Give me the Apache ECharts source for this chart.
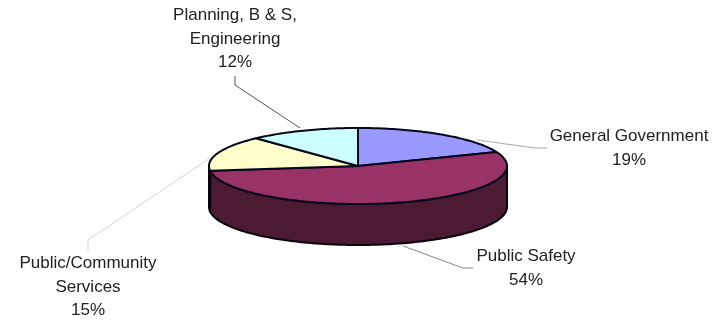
<!DOCTYPE html>
<html>
<head>
<meta charset="utf-8">
<style>html,body{margin:0;padding:0;background:#fff}#c{width:719px;height:320px}</style>
<script src="https://cdn.jsdelivr.net/npm/echarts@6/dist/echarts.min.js"></script>
</head>
<body>
<div id="c"></div>
<script>
var categories = ['General Government', 'Public Safety', 'Public/Community\nServices', 'Planning, B & S,\nEngineering'];
var shares = [19, 54, 15, 12];
var topColors = ['#9999FF', '#993366', '#FFFFCC', '#CCFFFF'];
var wallColors = ['#4C4C80', '#4C1A33', '#808066', '#668080'];

// layout of the projected pie
var cx = 358, cy = 166, rx = 149, ry = 38, depth = 41;
var labelBoxes = [
  { x: 629, y: 125 },
  { x: 526, y: 245 },
  { x: 88, y: 252 },
  { x: 235, y: 4 }
];
var leaders = [
  { pts: [[477, 140], [535, 148], [547, 148]], color: '#aaaaaa' },
  { pts: [[403, 246], [463, 268], [473, 268]], color: '#888888' },
  { pts: [[210, 158], [88, 240], [88, 251]], color: '#d4d4d4' },
  { pts: [[300, 128], [235, 85], [235, 76]], color: '#555555' }
];

var total = shares.reduce(function (a, b) { return a + b; }, 0);
var starts = [], acc = 0;
shares.forEach(function (v) { starts.push(acc); acc += v; });

function pt(theta, dy) {
  return [cx + rx * Math.sin(theta), cy - ry * Math.cos(theta) + (dy || 0)];
}
function arc(a0, a1, dy) {
  var out = [], n = Math.max(2, Math.ceil((a1 - a0) / 0.02));
  for (var i = 0; i <= n; i++) out.push(pt(a0 + (a1 - a0) * i / n, dy));
  return out;
}

function renderItem(params, api) {
  var i = params.dataIndex;
  var value = api.value(0);
  var a0 = starts[i] / total * Math.PI * 2;
  var a1 = a0 + value / total * Math.PI * 2;
  var children = [];
  // wall: only the part of the rim on the near half of the ellipse
  var w0 = Math.max(a0, Math.PI / 2), w1 = Math.min(a1, Math.PI * 1.5);
  if (w1 > w0) {
    children.push({
      type: 'polygon',
      shape: { points: arc(w0, w1, 0).concat(arc(w0, w1, depth).reverse()) },
      style: { fill: wallColors[i], stroke: '#08030c', lineWidth: 2, lineJoin: 'round' }
    });
  }
  children.push({
    type: 'polygon',
    shape: { points: [[cx, cy]].concat(arc(a0, a1, 0)) },
    style: { fill: topColors[i], stroke: '#08081c', lineWidth: 2, lineJoin: 'round' }
  });
  children.push({
    type: 'polyline',
    shape: { points: leaders[i].pts },
    style: { fill: null, stroke: leaders[i].color, lineWidth: 1 }
  });
  children.push({
    type: 'text',
    style: {
      text: categories[i] + '\n' + value + '%',
      x: labelBoxes[i].x, y: labelBoxes[i].y,
      align: 'center', verticalAlign: 'top',
      font: '17px "Liberation Sans", Arial, sans-serif',
      lineHeight: 23.5, fill: '#222222'
    }
  });
  return { type: 'group', children: children };
}

var chart = echarts.init(document.getElementById('c'), null, { renderer: 'canvas' });
chart.setOption({
  animation: false,
  backgroundColor: '#ffffff',
  series: [{
    type: 'custom',
    coordinateSystem: 'none',
    renderItem: renderItem,
    data: shares.map(function (v, i) { return { name: categories[i], value: [v] }; })
  }]
});
</script>
</body>
</html>
